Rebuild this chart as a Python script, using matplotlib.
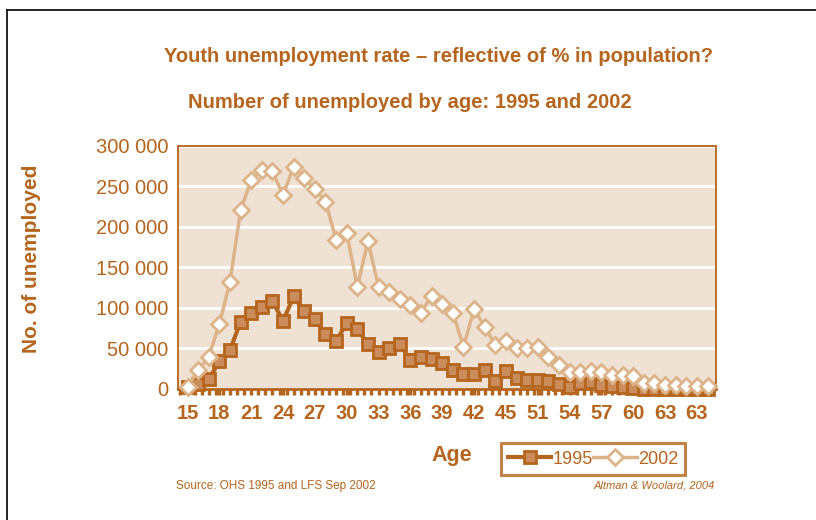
import matplotlib
matplotlib.use('Agg')
import matplotlib.pyplot as plt
from matplotlib.lines import Line2D
from matplotlib.ticker import FuncFormatter, MultipleLocator
import numpy as np

# number unemployed (thousands) by age
unemp_1995 = [2, 6, 12, 34, 48, 83, 94, 101, 108, 84, 114, 96, 86, 68, 59, 81, 74, 55, 46, 50,
              55, 36, 39, 37, 32, 24, 19, 19, 23, 10, 22, 13, 11, 11, 10, 6, 3, 7, 9, 5,
              4, 3, 1, 0, 0, 0, 0, 0, 0, 0]
unemp_2002 = [3, 23, 40, 80, 132, 220, 258, 270, 268, 239, 274, 260, 246, 231, 184, 192, 126, 182, 126, 119,
              111, 103, 94, 115, 105, 94, 52, 98, 77, 54, 59, 50, 51, 52, 39, 30, 21, 21, 22, 21,
              17, 17, 16, 7, 7, 5, 5, 4, 4, 4]
age_labels = ['15', '18', '21', '24', '27', '30', '33', '36', '39', '42', '45',
              '51', '54', '57', '60', '63', '63']
label_step = 3

BROWN = '#B5651D'
TAN = '#DDB48A'
SQ_FILL = '#C98C5A'
BG = '#EFE1D3'

plt.rcParams['font.family'] = ['Liberation Sans', 'DejaVu Sans']

fig = plt.figure(figsize=(8.16, 5.2), dpi=100)
fig.patch.set_facecolor('white')

# slide frame
fig.add_artist(Line2D([7 / 816, 1], [1 - 10 / 520, 1 - 10 / 520], color='black', lw=1.2))
fig.add_artist(Line2D([7 / 816, 7 / 816], [0, 1 - 10 / 520], color='black', lw=1.2))

ax = fig.add_axes([178 / 816, 131 / 520, 538 / 816, 243.5 / 520])
ax.set_facecolor(BG)

x = np.arange(len(unemp_1995))
y95 = np.array(unemp_1995) * 1000
y02 = np.array(unemp_2002) * 1000

ax.plot(x, y95, '-', color=BROWN, lw=3, marker='s', ms=9, mfc=SQ_FILL, mec=BROWN, mew=2,
        label='1995', clip_on=False, zorder=3)
ax.plot(x, y02, '-', color=TAN, lw=2.5, marker='D', ms=8, mfc='white', mec=TAN, mew=2,
        label='2002', clip_on=False, zorder=4)

ax.set_xlim(-0.9, len(unemp_1995) - 1 + 0.8)
ax.set_ylim(0, 300000)

ax.yaxis.set_major_locator(MultipleLocator(50000))
ax.yaxis.set_major_formatter(FuncFormatter(lambda v, p: '0' if v == 0 else '{:,}'.format(int(v)).replace(',', ' ')))
ax.grid(axis='y', color='white', lw=2)
ax.set_axisbelow(True)

ax.set_xticks(x[::label_step][:len(age_labels)])
ax.set_xticklabels(age_labels, fontsize=14.5, fontweight='bold', color=BROWN)
ax.xaxis.set_minor_locator(MultipleLocator(2 / 3))
ax.tick_params(axis='x', which='both', length=4, width=2.5, color=BROWN, pad=7)
ax.tick_params(axis='y', length=0, labelsize=14.5, labelcolor=BROWN, pad=7)

for s in ax.spines.values():
    s.set_color(BROWN)
    s.set_linewidth(1.3)
ax.spines['bottom'].set_linewidth(2)

ax.set_ylabel('No. of unemployed', fontsize=15, fontweight='bold', color=BROWN)
ax.yaxis.set_label_coords(-0.255, 0.535)

fig.text(452 / 816, 1 - 455 / 520, 'Age', fontsize=15.5, fontweight='bold', color=BROWN,
         ha='center', va='center')

leg = ax.legend(loc='center', bbox_to_anchor=(593 / 816, 1 - 459 / 520), bbox_transform=fig.transFigure,
                ncol=2, frameon=True, fontsize=13, handlelength=2.4, handletextpad=0.05,
                columnspacing=0.05, borderpad=0.4, borderaxespad=0, fancybox=False)
leg.get_frame().set_edgecolor(BROWN)
leg.get_frame().set_linewidth(2.2)
leg.get_frame().set_facecolor('white')
for t in leg.get_texts():
    t.set_color(BROWN)

fig.text(438 / 816, 1 - 57 / 520, 'Youth unemployment rate \u2013 reflective of % in population?',
         fontsize=14.5, fontweight='bold', color=BROWN, ha='center', va='center')
fig.text(410 / 816, 1 - 102 / 520, 'Number of unemployed by age: 1995 and 2002',
         fontsize=14.5, fontweight='bold', color=BROWN, ha='center', va='center')

fig.text(176 / 816, 1 - 486 / 520, 'Source: OHS 1995 and LFS Sep 2002', fontsize=8.5,
         color=BROWN, ha='left', va='center')
fig.text(715 / 816, 1 - 486 / 520, 'Altman & Woolard, 2004', fontsize=8, style='italic',
         color=BROWN, ha='right', va='center')

fig.savefig('out.png', dpi=100)
